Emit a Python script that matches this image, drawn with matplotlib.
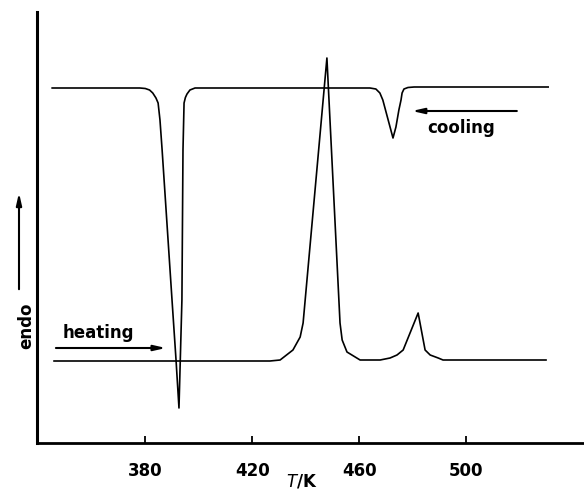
import matplotlib
matplotlib.use("Agg")
import matplotlib.pyplot as plt

# Heating curve (T in K, signal in arbitrary endo units)
heat_T = [345.9, 400.0, 426.6, 430.4, 435.2, 437.9, 439.0, 447.9, 452.8, 453.6,
          455.4, 460.3, 467.8, 471.5, 474.1, 476.4, 482.0, 484.6, 486.5, 489.5,
          491.3, 529.8]
heat_v = [0.00, 0.00, 0.00, 0.01, 0.11, 0.24, 0.38, 3.03, 0.38, 0.21,
          0.09, 0.01, 0.01, 0.03, 0.06, 0.11, 0.48, 0.11, 0.06, 0.03,
          0.01, 0.01]

# Cooling curve
cool_T = [345.2, 378.0, 380.0, 381.6, 382.8, 384.0, 384.8, 385.5, 386.3, 390.0,
          391.5, 392.6, 393.7, 394.1, 394.5, 395.0, 395.6, 396.7, 398.6, 464.0,
          466.2, 467.7, 468.8, 471.8, 472.6, 473.7, 474.8, 475.6, 476.0, 476.7,
          478.2, 480.5, 530.6]
cool_v = [2.73, 2.73, 2.725, 2.71, 2.68, 2.63, 2.58, 2.41, 2.11, 0.61,
          0.01, -0.47, 0.61, 2.11, 2.58, 2.635, 2.67, 2.71, 2.73, 2.73,
          2.72, 2.68, 2.61, 2.31, 2.23, 2.34, 2.51, 2.61, 2.68, 2.72,
          2.735, 2.74, 2.74]

xticks = [380, 420, 460, 500]

fig = plt.figure(figsize=(5.84, 4.91), dpi=100)
ax = fig.add_axes([37/584, 48/491, 547/584, 431/491])
ax.set_xlim(339.53, 544.0)
ax.set_ylim(-0.82, 3.49)

lw = 1.2
ax.plot(heat_T, heat_v, color="black", lw=lw, solid_joinstyle="round")
ax.plot(cool_T, cool_v, color="black", lw=lw, solid_joinstyle="round")

for s in ["top", "right"]:
    ax.spines[s].set_visible(False)
ax.spines["left"].set_linewidth(2.2)
ax.spines["bottom"].set_linewidth(2.0)

ax.set_yticks([])
ax.set_xticks(xticks)
ax.set_xticklabels([str(t) for t in xticks], fontsize=12, fontweight="bold",
                   family="DejaVu Sans")
ax.tick_params(axis="x", direction="in", length=5, width=1.3, pad=14)

ax.set_xlabel("$T$/K", fontsize=12, fontweight="bold")
ax.xaxis.set_label_coords((302 - 37) / 547, (443 - 490) / 431)
ax.xaxis.label.set_verticalalignment("bottom")

arrow_kw = dict(arrowstyle="-|>,head_length=0.7,head_width=0.16", color="black", lw=1.5,
                shrinkA=0, shrinkB=0)
ax.annotate("", xy=(387.7, 0.13), xytext=(346.6, 0.13), arrowprops=arrow_kw)
ax.text(362.4, 0.28, "heating", fontsize=12, fontweight="bold", ha="center", va="center")
ax.annotate("", xy=(479.7, 2.50), xytext=(518.9, 2.50), arrowprops=arrow_kw)
ax.text(498.0, 2.33, "cooling", fontsize=12, fontweight="bold", ha="center", va="center")

# y label with upward arrow (figure coords)
fig.text(26/584, 1 - 326/491, "endo", rotation=90, fontsize=12, fontweight="bold",
         ha="center", va="center")
fig.patches.append(matplotlib.patches.FancyArrowPatch(
    (19/584, 1 - 292/491), (19/584, 1 - 190/491), transform=fig.transFigure,
    arrowstyle="-|>,head_length=0.7,head_width=0.16", color="black", lw=1.5,
    mutation_scale=10))

fig.savefig("out.png", dpi=100)
